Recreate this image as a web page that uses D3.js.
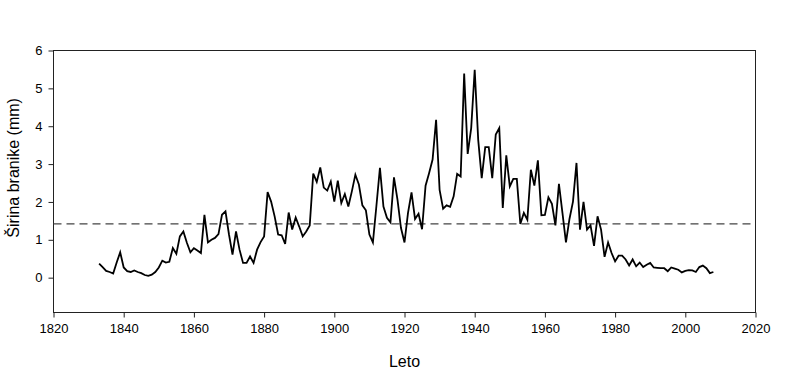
<!DOCTYPE html>
<html>
<head>
<meta charset="utf-8">
<script src="https://cdn.jsdelivr.net/npm/d3@7"></script>
<style>
    body { margin: 0; background: #fff; }
    #wrapper { width: 800px; height: 373px; }
    text { font-family: "Liberation Sans", Arial, sans-serif; fill: #000; }
</style>
</head>
<body>
<div id="wrapper"></div>
<script>
// data - sirina branike po letih
const startYear = 1833;
const ringWidth = [
    0.37, 0.28, 0.18, 0.15, 0.11, 0.40, 0.67, 0.27, 0.17, 0.15,
    0.19, 0.15, 0.12, 0.07, 0.05, 0.08, 0.15, 0.27, 0.45, 0.40,
    0.42, 0.78, 0.63, 1.09, 1.22, 0.92, 0.67, 0.78, 0.72, 0.65,
    1.66, 0.93, 1.00, 1.05, 1.15, 1.66, 1.75, 1.14, 0.61, 1.22,
    0.74, 0.39, 0.39, 0.56, 0.39, 0.74, 0.94, 1.09, 2.26, 2.01,
    1.62, 1.14, 1.12, 0.89, 1.72, 1.27, 1.59, 1.35, 1.09, 1.22,
    1.38, 2.75, 2.53, 2.91, 2.38, 2.30, 2.54, 2.01, 2.56, 1.97,
    2.21, 1.88, 2.28, 2.72, 2.46, 1.91, 1.78, 1.14, 0.93, 1.90,
    2.90, 1.88, 1.58, 1.46, 2.65, 2.06, 1.31, 0.93, 1.71, 2.25,
    1.55, 1.69, 1.28, 2.43, 2.76, 3.12, 4.17, 2.32, 1.82, 1.91,
    1.87, 2.15, 2.74, 2.67, 5.39, 3.27, 3.95, 5.49, 3.64, 2.63,
    3.45, 3.45, 2.63, 3.78, 3.95, 1.84, 3.23, 2.41, 2.61, 2.61,
    1.42, 1.71, 1.53, 2.85, 2.43, 3.10, 1.65, 1.66, 2.12, 1.95,
    1.38, 2.48, 1.71, 0.93, 1.55, 2.01, 3.03, 1.27, 2.00, 1.27,
    1.38, 0.84, 1.62, 1.27, 0.55, 0.93, 0.65, 0.43, 0.58, 0.58,
    0.48, 0.32, 0.48, 0.30, 0.40, 0.28, 0.34, 0.39, 0.27, 0.26,
    0.25, 0.25, 0.17, 0.27, 0.24, 0.21, 0.14, 0.18, 0.20, 0.19,
    0.15, 0.28, 0.32, 0.25, 0.12, 0.15
];
const meanWidth = 1.42;
const xTicks = [1820, 1840, 1860, 1880, 1900, 1920, 1940, 1960, 1980, 2000, 2020];
const yTicks = [0, 1, 2, 3, 4, 5, 6];
const xDomain = [1820, 2020];
const yDomain = [-0.92, 6];

const dataset = ringWidth.map((v, i) => ({ leto: startYear + i, sirina: v }));
const xAccessor = d => d.leto;
const yAccessor = d => d.sirina;

//dimensions
let dimensions = {
    width: 800,
    height: 373,
    margin: { top: 50.5, right: 44.5, bottom: 60.5, left: 53.5 }
};
dimensions.boundW = dimensions.width - dimensions.margin.left - dimensions.margin.right;
dimensions.boundH = dimensions.height - dimensions.margin.top - dimensions.margin.bottom;

//canvas
const wrapper = d3.select('#wrapper');

let svg = wrapper.append('svg')
    .attr('width', dimensions.width)
    .attr('height', dimensions.height);

let bounds = svg.append('g')
    .attr('transform', `translate(${dimensions.margin.left},${dimensions.margin.top})`);

//scales
let xScale = d3.scaleLinear()
    .domain(xDomain)
    .range([0, dimensions.boundW]);

let yScale = d3.scaleLinear()
    .domain(yDomain)
    .range([dimensions.boundH, 0]);

// frame
bounds.append('rect')
    .attr('width', dimensions.boundW)
    .attr('height', dimensions.boundH)
    .attr('fill', 'none')
    .attr('stroke', '#222')
    .attr('stroke-width', 1);

// mean line (dashed)
bounds.append('line')
    .attr('x1', 0)
    .attr('x2', dimensions.boundW)
    .attr('y1', yScale(meanWidth))
    .attr('y2', yScale(meanWidth))
    .attr('stroke', '#444')
    .attr('stroke-width', 1.3)
    .attr('stroke-dasharray', '8,5');

// data line
let lineGenerator = d3.line()
    .x(d => xScale(xAccessor(d)))
    .y(d => yScale(yAccessor(d)));

bounds.append('path')
    .attr('d', lineGenerator(dataset))
    .attr('fill', 'none')
    .attr('stroke', '#000')
    .attr('stroke-width', 1.8)
    .attr('stroke-linejoin', 'miter');

//axes
let xAxisGenerator = d3.axisBottom()
    .scale(xScale)
    .tickValues(xTicks)
    .tickSize(5)
    .tickPadding(6)
    .tickFormat(d3.format('d'));

let xAxis = bounds.append('g')
    .attr('transform', `translate(0,${dimensions.boundH})`)
    .call(xAxisGenerator);

let yAxisGenerator = d3.axisLeft()
    .scale(yScale)
    .tickValues(yTicks)
    .tickSize(5)
    .tickPadding(6)
    .tickFormat(d3.format('d'));

let yAxis = bounds.append('g')
    .call(yAxisGenerator);

[xAxis, yAxis].forEach(ax => {
    ax.select('.domain').remove();
    ax.selectAll('.tick line').attr('stroke', '#222');
    ax.selectAll('.tick text')
        .style('font-family', '"Liberation Sans", Arial, sans-serif')
        .style('font-size', '13px')
        .attr('fill', '#000');
});

// axis labels
svg.append('text')
    .attr('x', dimensions.margin.left + xScale(1920))
    .attr('y', 367)
    .attr('text-anchor', 'middle')
    .style('font-size', '16px')
    .text('Leto');

svg.append('text')
    .attr('transform', `translate(19,${dimensions.margin.top + yScale(2.9)}) rotate(-90)`)
    .attr('text-anchor', 'middle')
    .style('font-size', '16px')
    .text('Širina branike (mm)');
</script>
</body>
</html>
